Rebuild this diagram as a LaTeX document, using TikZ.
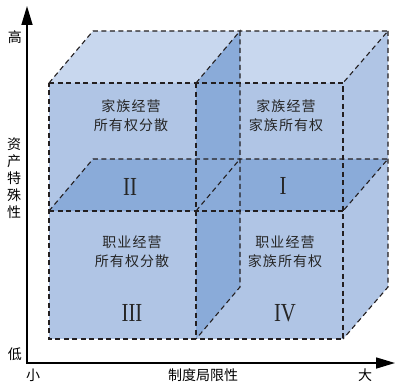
\documentclass[tikz,border=0pt]{standalone}
\usepackage{fontspec}
\usepackage{graphicx}
\newfontfamily\cjk[LetterSpace=8]{Noto Sans CJK SC}
\newfontfamily\cjkplain{Noto Sans CJK SC}
\newfontfamily\rmn{Liberation Serif}
\usetikzlibrary{arrows.meta}
\definecolor{topc}{HTML}{C8D7EE}
\definecolor{facec}{HTML}{B0C5E5}
\definecolor{darkc}{HTML}{8AABD9}
\definecolor{edgec}{HTML}{231F20}
\begin{document}
\begin{tikzpicture}[x=1pt,y=-1pt,
  edge/.style={draw=edgec, line width=1.1pt, dash pattern=on 5pt off 3.5pt},
  quad/.style={font=\cjk\fontsize{14}{19}\selectfont, align=center, text=black!85, inner sep=0pt},
  numeral/.style={font=\rmn\fontsize{26}{26}\selectfont, text=black!85, inner sep=0pt},
  axlab/.style={font=\cjkplain\fontsize{14}{17}\selectfont, inner sep=0pt, align=center}]
\useasboundingbox (0,0) rectangle (395,385);
% corners
\coordinate (A) at (49,83);   \coordinate (B) at (343,83);
\coordinate (C) at (343,339); \coordinate (D) at (49,339);
\coordinate (Ab) at (93,31);  \coordinate (Bb) at (388,31);
\coordinate (Cb) at (388,287);
\coordinate (ML) at (49,211); \coordinate (MR) at (343,211);
\coordinate (MLb) at (93,159); \coordinate (MRb) at (388,159);
\coordinate (VT) at (196,83); \coordinate (VB) at (196,339);
\coordinate (VTb) at (240,31); \coordinate (VBb) at (240,287);
\coordinate (HV) at (196,211); \coordinate (HVb) at (240,159);
% fills
\fill[topc] (A) -- (B) -- (Bb) -- (Ab) -- cycle;
\fill[facec] (B) -- (Bb) -- (Cb) -- (C) -- cycle;
\fill[facec] (A) -- (B) -- (C) -- (D) -- cycle;
\fill[darkc] (ML) -- (MR) -- (MRb) -- (MLb) -- cycle;
\fill[darkc] (VT) -- (VB) -- (VBb) -- (VTb) -- cycle;
% dashed edges
\draw[edge] (A) -- (B) -- (C) -- (D) -- cycle;
\draw[edge] (A) -- (Ab) -- (Bb) -- (B);
\draw[edge] (Bb) -- (Cb) -- (C);
\draw[edge] (ML) -- (MR);
\draw[edge] (ML) -- (MLb) -- (MRb) -- (MR);
\draw[edge] (VT) -- (VB);
\draw[edge] (VT) -- (VTb) -- (VBb) -- (VB);
\draw[edge] (HV) -- (HVb);
% axes
\coordinate (O) at (27,363);
\coordinate (Ytip) at (27,6);
\coordinate (Xtip) at (395,363);
\draw[line width=1.6pt, {Triangle[length=19pt,width=11pt]}-{Triangle[length=19pt,width=11pt]}] (Ytip) -- (O) -- (Xtip);
% quadrant texts
\node[quad] (q2) at (131,115.5) {家族经营\\所有权分散};
\node[quad] (q1) at (286,115.5) {家族经营\\家族所有权};
\node[quad] (q3) at (132,251.5) {职业经营\\所有权分散};
\node[quad] (q4) at (285,251.5) {职业经营\\家族所有权};
\node[numeral] (n2) at (130,187) {\scalebox{0.8}[1]{II}};
\node[numeral] (n1) at (283,186) {\scalebox{0.8}[1]{I}};
\node[numeral] (n3) at (132,313) {\scalebox{0.8}[1]{III}};
\node[numeral] (n4) at (285,313) {\scalebox{0.8}[1]{IV}};
% axis labels
\node[axlab] (hi) at (15,37) {高};
\node[axlab] (yl) at (14,178) {资\\产\\特\\殊\\性};
\node[axlab] (lo) at (15,354) {低};
\node[axlab] (sm) at (33,375) {小};
\node[axlab] (xl) at (203,375) {制度局限性};
\node[axlab] (bg) at (365,375) {大};
\end{tikzpicture}
\end{document}
